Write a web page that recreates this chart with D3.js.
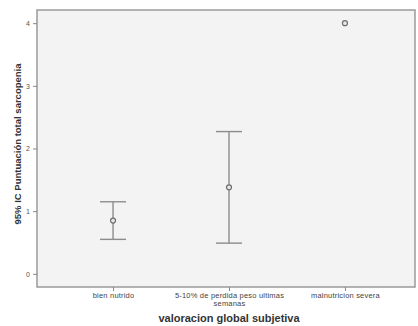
<!DOCTYPE html>
<html>
<head>
<meta charset="utf-8">
<script src="https://cdn.jsdelivr.net/npm/d3@7"></script>
<style>
  body { margin: 0; background: #fff; }
  svg { display: block; font-family: "Liberation Sans", Arial, sans-serif; }
</style>
</head>
<body>
<div id="chart"></div>
<script>
// data
const categories = ["bien nutrido", "5-10% de perdida peso ultimas semanas", "malnutricion severa"]
const means = [0.85, 1.38, 4.0]
const lower = [0.55, 0.49, null]
const upper = [1.15, 2.27, null]
const yTicks = [0, 1, 2, 3, 4]

const width = 418, height = 326
const margin = {top: 10, right: 3, bottom: 39, left: 37}

const svg = d3.select("#chart").append("svg")
  .attr("width", width)
  .attr("height", height)

const x = d3.scalePoint()
  .domain(categories)
  .range([margin.left + 3, width - margin.right + 3])
  .padding(0.63)

const y = d3.scaleLinear()
  .domain([-0.21, 4.21])
  .range([height - margin.bottom, margin.top])

// plot frame
svg.append("rect")
  .attr("x", margin.left)
  .attr("y", margin.top)
  .attr("width", width - margin.left - margin.right)
  .attr("height", height - margin.top - margin.bottom)
  .attr("fill", "#f3f3f3")
  .attr("stroke", "#9a9a9a")
  .attr("stroke-width", 1.5)

// y axis
const yAxis = svg.append("g")
  .attr("transform", "translate(" + margin.left + ",0)")
  .call(d3.axisLeft(y).tickValues(yTicks).tickSize(4).tickPadding(3).tickFormat(d3.format("d")))
yAxis.select(".domain").remove()
yAxis.selectAll("line").attr("stroke", "#888")
yAxis.selectAll("text").attr("font-size", 7).attr("fill", "#555")

// x axis
const xAxis = svg.append("g")
  .attr("transform", "translate(0," + (height - margin.bottom) + ")")
  .call(d3.axisBottom(x).tickSize(4).tickPadding(2))
xAxis.select(".domain").remove()
xAxis.selectAll("line").attr("stroke", "#888")
xAxis.selectAll("text")
  .attr("font-size", 7.5)
  .attr("fill", "#444")
  .attr("letter-spacing", 0.2)
  .each(function (d) {
    // wrap the long label onto two lines
    if (d.length > 30) {
      const t = d3.select(this)
      const words = d.split(" ")
      t.text(null)
      t.append("tspan").attr("x", 0).text(words.slice(0, -1).join(" "))
      t.append("tspan").attr("x", 0).attr("dy", "1em").text(words[words.length - 1])
    }
  })

// error bars
const bars = categories.map((c, i) => ({c, m: means[i], lo: lower[i], hi: upper[i]}))
const withCI = bars.filter(d => d.lo != null)
const g = svg.append("g").attr("stroke", "#8c8c8c").attr("stroke-width", 1.4)

g.selectAll(".stem").data(withCI).enter().append("line")
  .attr("x1", d => x(d.c)).attr("x2", d => x(d.c))
  .attr("y1", d => y(d.lo)).attr("y2", d => y(d.hi))

g.selectAll(".capHi").data(withCI).enter().append("line")
  .attr("x1", d => x(d.c) - 13).attr("x2", d => x(d.c) + 13)
  .attr("y1", d => y(d.hi)).attr("y2", d => y(d.hi))

g.selectAll(".capLo").data(withCI).enter().append("line")
  .attr("x1", d => x(d.c) - 13).attr("x2", d => x(d.c) + 13)
  .attr("y1", d => y(d.lo)).attr("y2", d => y(d.lo))

svg.append("g").selectAll("circle").data(bars).enter().append("circle")
  .attr("cx", d => x(d.c))
  .attr("cy", d => y(d.m))
  .attr("r", 2.5)
  .attr("fill", "#e6e6e6")
  .attr("stroke", "#6f6f6f")
  .attr("stroke-width", 1.2)

// axis titles
svg.append("text")
  .attr("x", (margin.left + width - margin.right) / 2 + 3)
  .attr("y", 322)
  .attr("text-anchor", "middle")
  .attr("font-size", 11)
  .attr("font-weight", "bold")
  .attr("fill", "#333")
  .text("valoracion global subjetiva")

svg.append("text")
  .attr("transform", "translate(21," + 144 + ") rotate(-90)")
  .attr("text-anchor", "middle")
  .attr("font-size", 9.5)
  .attr("font-weight", "bold")
  .attr("fill", "#333")
  .text("95% IC Puntuación total sarcopenia")
</script>
</body>
</html>
